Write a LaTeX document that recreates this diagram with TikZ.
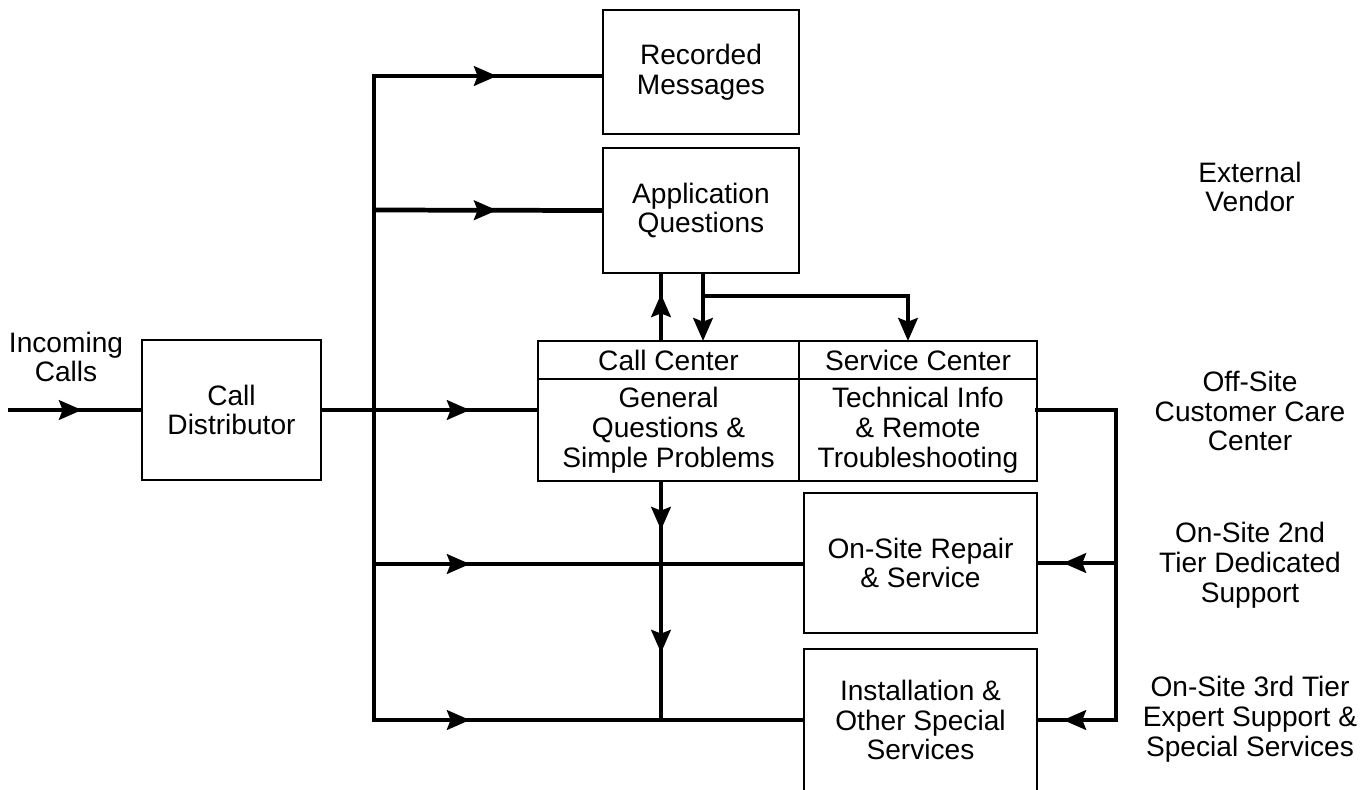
\documentclass[tikz,border=0pt]{standalone}
\usepackage{fontspec}
\setmainfont{Liberation Sans}
\usetikzlibrary{arrows.meta,positioning,decorations.markings}
\tikzset{
  unitbox/.style={
    draw,
    line width=0.7pt,
    outer sep=0pt,
    inner sep=0pt,
    align=center,
    font=\fontsize{16}{17}\selectfont
  },
  sidelabel/.style={
    align=center,
    inner sep=0pt,
    font=\fontsize{16}{17}\selectfont
  },
  feedline/.style={line width=2.7pt},
  arrowat/.style={postaction={decorate,decoration={markings,mark=at position #1 with {\arrow{>}}}}}
}

\begin{document}
\begin{tikzpicture}[x=0.02cm,y=-0.02cm,>={Stealth[length=13pt,width=11pt,inset=2pt]}]
\useasboundingbox (0,0) rectangle (1372,789);
% boxes
\node[unitbox,minimum width=3.58cm,minimum height=2.8cm] (dist) at (231.5,410) {Call\\Distributor};
\node[unitbox,minimum width=3.92cm,minimum height=2.48cm] (rec) at (701,72) {Recorded\\Messages};
\node[unitbox,minimum width=3.92cm,minimum height=2.5cm] (app) at (701,210.5) {Application\\Questions};
\node[unitbox,minimum width=5.22cm,minimum height=0.76cm] (cc) at (668.5,360) {Call Center};
\node[unitbox,minimum width=4.76cm,minimum height=0.76cm,right=0pt of cc] (sc) {Service Center};
\node[unitbox,minimum width=5.22cm,minimum height=2.04cm,below=0pt of cc] (gq) {General\\Questions \&\\Simple Problems};
\node[unitbox,minimum width=4.76cm,minimum height=2.04cm,below=0pt of sc] (ti) {Technical Info\\\& Remote\\Troubleshooting};
\node[unitbox,minimum width=4.66cm,minimum height=2.8cm] (rep) at (920.5,563) {On-Site Repair\\\& Service};
\node[unitbox,minimum width=4.66cm,minimum height=2.84cm] (inst) at (920.5,720) {Installation \&\\Other Special\\Services};
% side labels
\node[sidelabel] (incoming) at (66,357) {Incoming\\Calls};
\node[sidelabel] (vendor) at (1250,187) {External\\Vendor};
\node[sidelabel] (offsite) at (1250,411) {Off-Site\\Customer Care\\Center};
\node[sidelabel] (tier2) at (1250,565) {On-Site 2nd\\Tier Dedicated\\Support};
\node[sidelabel] (tier3) at (1250,719) {On-Site 3rd Tier\\Expert Support \&\\Special Services};
% junctions
\coordinate (in) at (8,410);
\coordinate (bt) at (374,76);
\coordinate (ba) at (374,210);
\coordinate (br) at (374,564);
\coordinate (bb) at (374,720);
\coordinate (cj) at (661,720);
\coordinate (sp) at (703,296);
\coordinate (sv) at (908,296);
\coordinate (rj) at (1116,410);
% connectors
\draw[feedline,arrowat=1.48cm] (in) -- (in -| dist.west);
\draw[feedline,arrowat=2.98cm] (dist.east) -- (gq.west |- dist.east);
\draw[feedline,line cap=rect] (bt) -- (bb);
\draw[feedline,arrowat=2.46cm] (bt) -- (bt -| rec.west);
\draw[feedline,arrowat=2.46cm] (ba) -- (app.west);
\draw[feedline,arrowat=1.92cm] (br) -- (br -| rep.west);
\draw[feedline,arrowat=1.92cm] (bb) -- (bb -| inst.west);
\draw[feedline,arrowat=0.98cm,arrowat=3.44cm] (cj |- gq.south) -- (cj);
\draw[feedline,arrowat=0.94cm] (cj |- cc.north) -- (cj |- app.south);
\draw[feedline,->] (sp |- app.south) -- (sp |- cc.north);
\draw[feedline,->] (sp) -- (sv) -- (sv |- sc.north);
\draw[feedline,line cap=rect] (ti.east |- rj) -- (rj) -- (rj |- inst.east);
\draw[feedline,arrowat=1.06cm] (rj |- rep.east) -- (rep.east);
\draw[feedline,arrowat=1.06cm] (rj |- inst.east) -- (inst.east);
\end{tikzpicture}
\end{document}
